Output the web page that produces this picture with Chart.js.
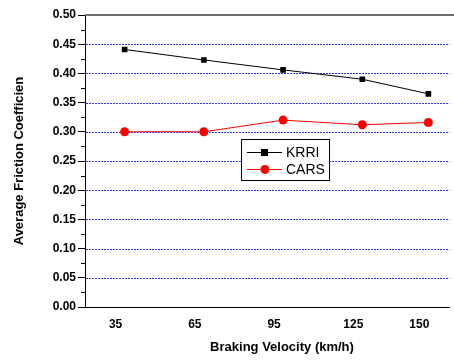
<!DOCTYPE html>
<html>
<head>
<meta charset="utf-8">
<script src="https://cdn.jsdelivr.net/npm/chart.js@4.4.1/dist/chart.umd.min.js"></script>
<style>
  html, body { margin: 0; padding: 0; background: #fff; }
  #wrap { width: 454px; height: 360px; position: relative; }
</style>
</head>
<body>
<div id="wrap"><canvas id="chart"></canvas></div>
<script>
// ─── Data ─────────────────────────────────────────────
const velocities = [35, 65, 95, 125, 150];
const krri = [0.441, 0.423, 0.406, 0.390, 0.365];
const cars = [0.300, 0.300, 0.320, 0.312, 0.316];
const yTicks = [0, 0.05, 0.10, 0.15, 0.20, 0.25, 0.30, 0.35, 0.40, 0.45, 0.50];
const seriesNames = ['KRRI', 'CARS'];
const xTitle = 'Braking Velocity (km/h)';

const FONT = "'Liberation Sans', Arial, sans-serif";

// dotted blue grid under the data
const gridLines = {
  id: 'gridLines',
  beforeDatasetsDraw(chart) {
    const { ctx, chartArea: a, scales: { y } } = chart;
    ctx.save();
    ctx.strokeStyle = '#3535ff';
    ctx.lineWidth = 1;
    ctx.setLineDash([2, 1]);
    yTicks.slice(1, -1).forEach(v => {
      const py = Math.round(y.getPixelForValue(v)) + 0.5;
      ctx.beginPath();
      ctx.moveTo(a.left + 1, py);
      ctx.lineTo(a.right, py);
      ctx.stroke();
    });
    ctx.restore();
  }
};

// minor ticks, top border, x title and the boxed legend
const extras = {
  id: 'extras',
  afterDraw(chart) {
    const { ctx, chartArea: a, scales: { y } } = chart;
    ctx.save();

    // minor ticks on y
    ctx.strokeStyle = '#000';
    ctx.lineWidth = 1;
    for (let i = 0; i < yTicks.length - 1; i++) {
      const py = Math.round(y.getPixelForValue((yTicks[i] + yTicks[i + 1]) / 2)) + 0.5;
      ctx.beginPath();
      ctx.moveTo(a.left - 4, py);
      ctx.lineTo(a.left, py);
      ctx.stroke();
    }

    // top frame line
    ctx.strokeStyle = '#707070';
    ctx.lineWidth = 2;
    ctx.beginPath();
    ctx.moveTo(a.left, a.top);
    ctx.lineTo(chart.width, a.top);
    ctx.stroke();

    // x axis title (sits a little right of centre in the original)
    ctx.fillStyle = '#000';
    ctx.font = 'bold 13px ' + FONT;
    ctx.textAlign = 'center';
    ctx.textBaseline = 'middle';
    ctx.fillText(xTitle, 282, 347);

    // legend box
    const bx = 241, by = 139, bw = 88, bh = 41;
    ctx.fillStyle = '#fff';
    ctx.fillRect(bx, by, bw, bh);
    ctx.strokeStyle = '#000';
    ctx.lineWidth = 1;
    ctx.strokeRect(bx + 0.5, by + 0.5, bw, bh);

    ctx.font = '14px ' + FONT;
    ctx.textAlign = 'left';
    chart.data.datasets.forEach((ds, i) => {
      const ly = by + 13 + i * 17;
      ctx.strokeStyle = ds.borderColor;
      ctx.lineWidth = 1;
      ctx.beginPath();
      ctx.moveTo(bx + 6, ly + 0.5);
      ctx.lineTo(bx + 41, ly + 0.5);
      ctx.stroke();
      ctx.fillStyle = ds.backgroundColor;
      if (ds.pointStyle === 'rect') {
        ctx.fillRect(bx + 20, ly - 3, 7, 7);
      } else {
        ctx.beginPath();
        ctx.arc(bx + 24, ly + 0.5, 4.5, 0, Math.PI * 2);
        ctx.fill();
      }
      ctx.fillStyle = '#000';
      ctx.fillText(ds.label, bx + 45, ly + 1);
    });

    ctx.restore();
  }
};

new Chart(document.getElementById('chart'), {
  type: 'line',
  data: {
    datasets: [
      {
        label: seriesNames[0],
        data: velocities.map((v, i) => ({ x: v, y: krri[i] })),
        borderColor: '#000',
        backgroundColor: '#000',
        borderWidth: 1,
        pointStyle: 'rect',
        pointRadius: 4,
        pointBorderWidth: 0
      },
      {
        label: seriesNames[1],
        data: velocities.map((v, i) => ({ x: v, y: cars[i] })),
        borderColor: '#ff0000',
        backgroundColor: '#ff0000',
        borderWidth: 1,
        pointStyle: 'circle',
        pointRadius: 4.5,
        pointBorderWidth: 0
      }
    ]
  },
  options: {
    responsive: true,
    maintainAspectRatio: false,
    animation: false,
    layout: { padding: { top: 15, right: 1, left: 0, bottom: 0 } },
    plugins: {
      legend: { display: false },
      tooltip: { enabled: false }
    },
    scales: {
      x: {
        type: 'linear',
        min: 20,
        max: 158,
        afterBuildTicks: s => { s.ticks = velocities.map(v => ({ value: v })); },
        afterFit: s => { s.height = 53; },
        grid: { display: false, drawTicks: false },
        border: { display: true, color: '#000', width: 1 },
        ticks: {
          color: '#000',
          padding: 10,
          labelOffset: -9,
          maxRotation: 0,
          font: { family: FONT, size: 12, weight: 'bold' },
          callback: v => String(v)
        },
        title: { display: false }
      },
      y: {
        min: 0,
        max: 0.5,
        afterBuildTicks: s => { s.ticks = yTicks.map(v => ({ value: v })); },
        afterFit: s => { s.width = 85; },
        grid: {
          drawOnChartArea: false,
          drawTicks: true,
          tickLength: 7,
          tickColor: '#000',
          lineWidth: 1
        },
        border: { display: true, color: '#000', width: 1 },
        ticks: {
          color: '#000',
          padding: 2,
          font: { family: FONT, size: 12, weight: 'bold' },
          callback: v => Number(v).toFixed(2)
        },
        title: {
          display: true,
          text: 'Average Friction Coefficien',
          color: '#000',
          padding: { top: 12, bottom: 0 },
          font: { family: FONT, size: 13, weight: 'bold' }
        }
      }
    }
  },
  plugins: [gridLines, extras]
});
</script>
</body>
</html>
